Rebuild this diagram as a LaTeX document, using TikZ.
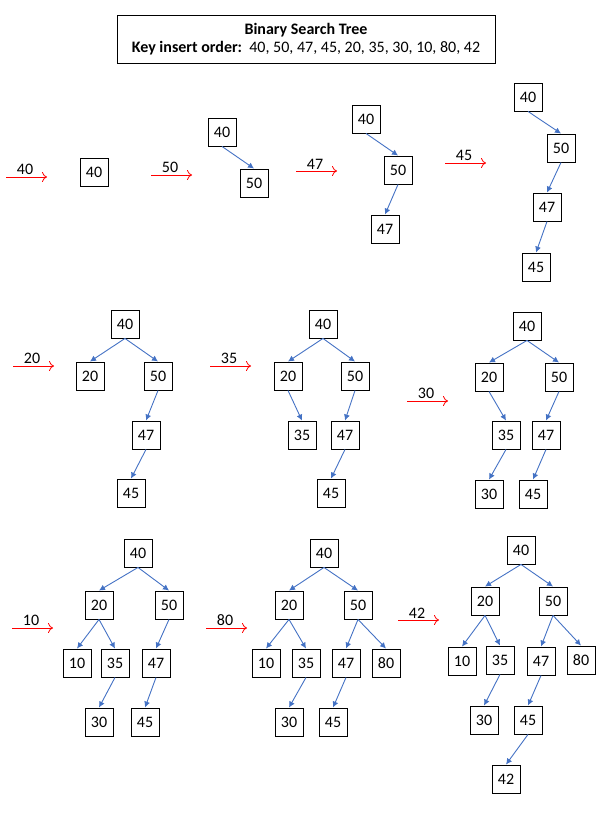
\documentclass[tikz,border=0pt]{standalone}
\usepackage{fontspec}
\setmainfont{Carlito}
\usetikzlibrary{arrows.meta}
\definecolor{linkblue}{HTML}{4472C4}
\tikzset{
  key/.style={draw, minimum size=28pt, inner sep=0pt, line width=0.9pt, font=\fontsize{16}{19}\selectfont},
  link/.style={-{Latex[length=6pt,width=6pt]}, draw=linkblue, line width=0.9pt},
  insert/.style={-{To[length=5pt,width=10pt]}, red, line width=0.8pt},
}
\begin{document}
\begin{tikzpicture}[x=1pt,y=-1pt]
\useasboundingbox (0,0) rectangle (605,832);
% title
\node[draw, line width=0.9pt, minimum width=378pt, minimum height=48pt, align=center,
  font=\fontsize{16}{18}\selectfont] (title) at (306,39)
  {\textbf{Binary Search Tree}\\\textbf{Key insert order:}\ \ 40, 50, 47, 45, 20, 35, 30, 10, 80, 42};
% insert arrows
\foreach \k/\x/\y in {40/6/177, 50/151/175, 47/296/171, 45/445/163, 20/13/366,
  35/210/366, 30/407/401, 10/12/628, 80/206/628, 42/398/620} {
  \coordinate (in\k) at (\x,\y);
  \coordinate (out\k) at (\x+41,\y);
  \draw[insert] (in\k) -- node[above, inner sep=1.5pt, xshift=-1.5pt, text=black,
    font=\fontsize{16}{19}\selectfont] (lab\k) {\k} (out\k);
}
% 40
\node[key] (a40) at (94,172) {40};
% 50
\node[key] (b40) at (222,132) {40};
\node[key] (b50) at (254,183) {50};
% 47
\node[key] (c40) at (366,119) {40};
\node[key] (c50) at (398,170) {50};
\node[key] (c47) at (385,229) {47};
% 45
\node[key] (d40) at (528,97) {40};
\node[key] (d50) at (561,148) {50};
\node[key] (d47) at (547,207) {47};
\node[key] (d45) at (536,267) {45};
% 20
\node[key] (e40) at (125,324) {40};
\node[key] (e20) at (90,376) {20};
\node[key] (e50) at (158,376) {50};
\node[key] (e47) at (146,435) {47};
\node[key] (e45) at (131,493) {45};
% 35
\node[key] (f40) at (323,324) {40};
\node[key] (f20) at (288,376) {20};
\node[key] (f50) at (355,376) {50};
\node[key] (f35) at (302,435) {35};
\node[key] (f47) at (345,435) {47};
\node[key] (f45) at (331,493) {45};
% 30
\node[key] (g40) at (527,326) {40};
\node[key] (g20) at (489,377) {20};
\node[key] (g50) at (559,377) {50};
\node[key] (g35) at (506,435) {35};
\node[key] (g47) at (546,435) {47};
\node[key] (g30) at (489,494) {30};
\node[key] (g45) at (533,494) {45};
% 10
\node[key] (h40) at (138,553) {40};
\node[key] (h20) at (99,605) {20};
\node[key] (h50) at (169,605) {50};
\node[key] (h10) at (77,663) {10};
\node[key] (h35) at (115,663) {35};
\node[key] (h47) at (156,663) {47};
\node[key] (h30) at (99,722) {30};
\node[key] (h45) at (145,722) {45};
% 80
\node[key] (i40) at (324,553) {40};
\node[key] (i20) at (289,605) {20};
\node[key] (i50) at (358,605) {50};
\node[key] (i10) at (266,663) {10};
\node[key] (i35) at (306,663) {35};
\node[key] (i47) at (346,663) {47};
\node[key] (i80) at (386,663) {80};
\node[key] (i30) at (289,722) {30};
\node[key] (i45) at (333,722) {45};
% 42
\node[key] (j40) at (521,550) {40};
\node[key] (j20) at (485,601) {20};
\node[key] (j50) at (553,601) {50};
\node[key] (j10) at (462,661) {10};
\node[key] (j35) at (500,660) {35};
\node[key] (j47) at (541,661) {47};
\node[key] (j80) at (581,660) {80};
\node[key] (j30) at (484,720) {30};
\node[key] (j45) at (528,720) {45};
\node[key] (j42) at (506,779) {42};
% links
\foreach \p/\c in {b40/b50, c40/c50, c50/c47, d40/d50, d50/d47, d47/d45,
  e40/e20, e40/e50, e50/e47, e47/e45,
  f40/f20, f40/f50, f20/f35, f50/f47, f47/f45,
  g40/g20, g40/g50, g20/g35, g50/g47, g35/g30, g47/g45,
  h40/h20, h40/h50, h20/h10, h20/h35, h50/h47, h35/h30, h47/h45,
  i40/i20, i40/i50, i20/i10, i20/i35, i50/i47, i50/i80, i35/i30, i47/i45,
  j40/j20, j40/j50, j20/j10, j20/j35, j50/j47, j50/j80, j35/j30, j47/j45, j45/j42}
  \draw[link] (\p.south) -- (\c.north);
\end{tikzpicture}
\end{document}
